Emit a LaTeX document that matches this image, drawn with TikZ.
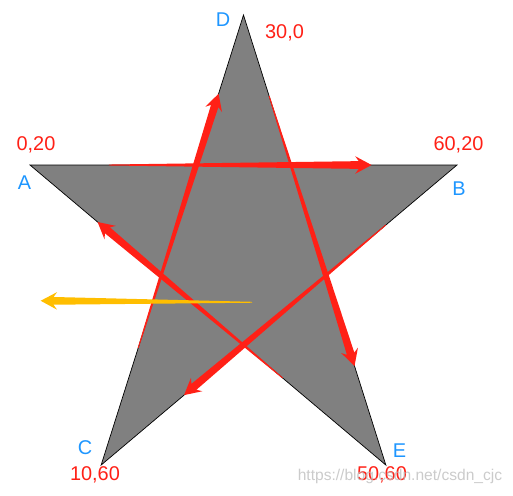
\documentclass[tikz,border=0pt]{standalone}
\usepackage{fontspec}
\setmainfont{Liberation Sans}
\usepackage{tikz}
\usetikzlibrary{calc}
\definecolor{rosso}{RGB}{255,32,22}
\definecolor{arancio}{RGB}{255,190,0}
\definecolor{grigio}{RGB}{128,128,128}
\definecolor{azzurro}{RGB}{30,150,255}
\definecolor{chiaro}{RGB}{190,190,190}
\tikzstyle{stella} = [fill=grigio, draw=black, line width=0.6pt, line join=miter]
\tikzstyle{vertice} = [inner sep=0pt, text=azzurro, font=\fontsize{17}{20}\selectfont]
\tikzstyle{coordinata} = [inner sep=0pt, text=rosso, font=\fontsize{17}{20}\selectfont]
\tikzstyle{filigrana} = [inner sep=0pt, text=chiaro, text opacity=0.8, font=\fontsize{13.3}{16}\selectfont]
% freccia rastremata: #1 partenza, #2 punta, #3 colore
\newcommand{\freccia}[3]{%
  \path (#2) coordinate (fp) ($(#2)!14pt!(#1)$) coordinate (fb) ($(#2)!11pt!(#1)$) coordinate (fc);
  \fill[#3] ($(#1)!0.4pt!90:(fp)$) -- ($(fc)!3.3pt!90:(fp)$) -- ($(fb)!7.5pt!90:(fp)$) -- (fp)
    -- ($(fb)!7.5pt!-90:(fp)$) -- ($(fc)!3.3pt!-90:(fp)$) -- ($(#1)!0.4pt!-90:(fp)$) -- cycle;
}
\begin{document}
\begin{tikzpicture}[x=0.2135cm,y=-0.225cm]
\useasboundingbox (-4.215,-2) rectangle (67.87,64);
\coordinate (A) at (0,20);
\coordinate (B) at (60,20);
\coordinate (C) at (10,60);
\coordinate (D) at (30,0);
\coordinate (E) at (50,60);
\draw[stella] (D) -- (intersection of D--E and A--B) -- (B)
  -- (intersection of B--C and D--E) -- (E)
  -- (intersection of E--A and B--C) -- (C)
  -- (intersection of C--D and E--A) -- (A)
  -- (intersection of A--B and C--D) -- cycle;
% lati percorsi
\coordinate (ab1) at ($(A)!0.185!(B)$);
\coordinate (ab2) at ($(A)!0.8!(B)$);
\coordinate (bc1) at ($(B)!0.2!(C)$);
\coordinate (bc2) at ($(B)!0.767!(C)$);
\coordinate (cd1) at ($(C)!0.26!(D)$);
\coordinate (cd2) at ($(C)!0.825!(D)$);
\coordinate (de1) at ($(D)!0.18!(E)$);
\coordinate (de2) at ($(D)!0.78!(E)$);
\coordinate (ea1) at ($(E)!0.29!(A)$);
\coordinate (ea2) at ($(E)!0.81!(A)$);
\freccia{ab1}{ab2}{rosso}
\freccia{bc1}{bc2}{rosso}
\freccia{cd1}{cd2}{rosso}
\freccia{de1}{de2}{rosso}
\freccia{ea1}{ea2}{rosso}
% raggio verso sinistra
\coordinate (o) at (31.2,38.3);
\coordinate (r) at (1.5,38.1);
\freccia{o}{r}{arancio}
\node (lD) at (27.12,0.6) [vertice] {D};
\node (cD) at (35.76,2.4) [coordinata] {30,0};
\node (lA) at (-0.77,22.4) [vertice] {A};
\node (cA) at (0.84,17.27) [coordinata] {0,20};
\node (lB) at (60.28,23.2) [vertice] {B};
\node (cB) at (60.21,17.27) [coordinata] {60,20};
\node (lC) at (7.73,57.67) [vertice] {C};
\node (cC) at (9.13,61.27) [coordinata] {10,60};
\node (lE) at (51.92,58.13) [vertice] {E};
\node (cE) at (49.46,61.33) [coordinata] {50,60};
\node (marca) at (51.99,61.53) [filigrana] {https://blog.csdn.net/csdn\_cjc};
\end{tikzpicture}
\end{document}
